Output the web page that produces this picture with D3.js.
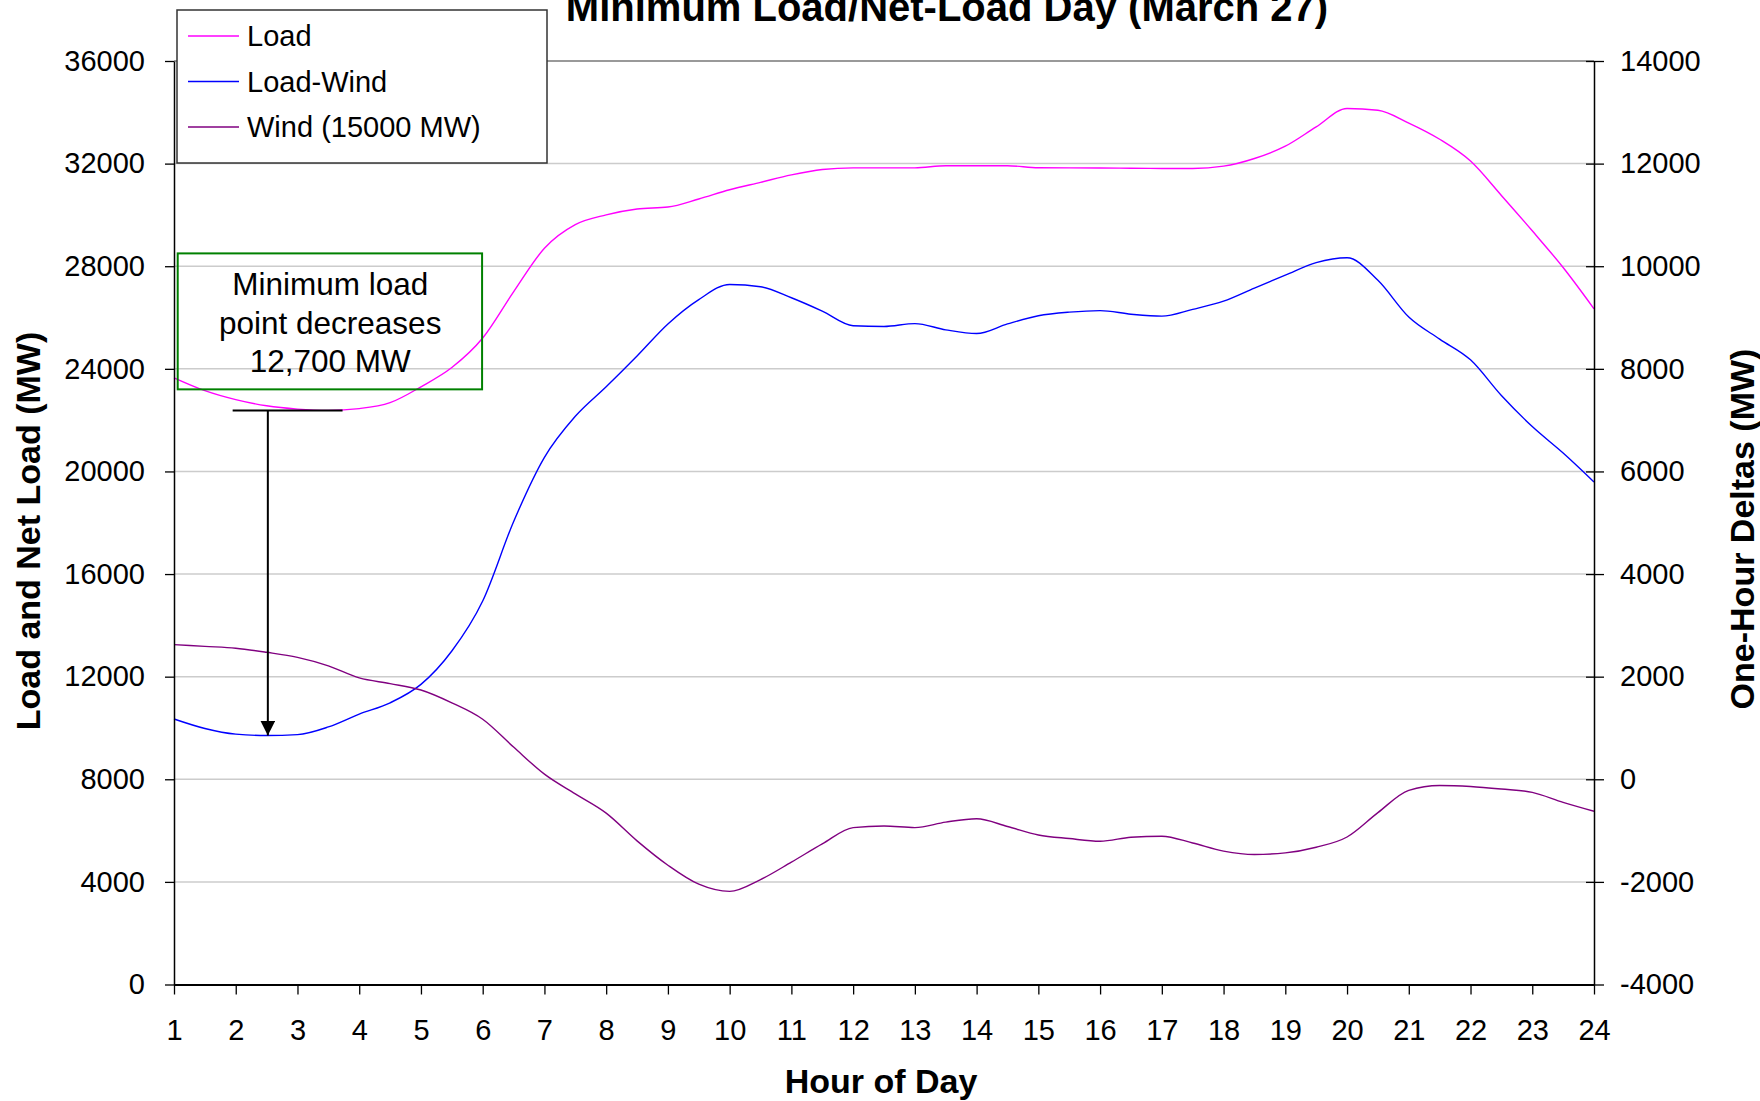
<!DOCTYPE html>
<html>
<head>
<meta charset="utf-8">
<script src="https://cdn.jsdelivr.net/npm/d3@7"></script>
<style>
  body { margin: 0; background: #fff; }
  svg { display: block; font-family: "Liberation Sans", Arial, sans-serif; }
</style>
</head>
<body>
<div id="chart"></div>
<script>
// hour of day, half-hour steps
var hours = [1, 1.5, 2, 2.5, 3, 3.5, 4, 4.5, 5, 5.5, 6, 6.5, 7, 7.5, 8, 8.5, 9, 9.5, 10, 10.5, 11, 11.5, 12, 12.5,
  13, 13.5, 14, 14.5, 15, 15.5, 16, 16.5, 17, 17.5, 18, 18.5, 19, 19.5, 20, 20.5, 21, 21.5, 22, 22.5, 23, 23.5, 24];

var load = [23650, 23150, 22800, 22560, 22430, 22380, 22450, 22680, 23300, 24050, 25200, 27000, 28700, 29620,
  30000, 30230, 30306, 30620, 30980, 31270, 31560, 31770, 31835, 31835, 31835, 31915, 31915, 31915, 31840, 31835,
  31830, 31820, 31812, 31812, 31900, 32200, 32680, 33430, 34150, 34080, 33580, 32950, 32100, 30760, 29380, 27950, 26340];

var loadWind = [10350, 9980, 9760, 9705, 9740, 10040, 10540, 10980, 11700, 13000, 14950, 18040, 20550, 22150,
  23300, 24500, 25750, 26700, 27290, 27200, 26770, 26250, 25680, 25650, 25764, 25520, 25375, 25750, 26068, 26210,
  26271, 26130, 26053, 26320, 26640, 27150, 27650, 28140, 28330, 27450, 26020, 25160, 24350, 22960, 21750, 20719, 19592];

var wind = [13250, 13180, 13110, 12950, 12750, 12420, 11950, 11730, 11480, 10980, 10340, 9256, 8200, 7430,
  6680, 5600, 4650, 3910, 3630, 4090, 4770, 5480, 6117, 6180, 6117, 6330, 6460, 6160, 5829, 5690,
  5587, 5740, 5782, 5515, 5201, 5070, 5130, 5350, 5750, 6700, 7570, 7759, 7720, 7620, 7490, 7100, 6753];

var xTicks = [1, 2, 3, 4, 5, 6, 7, 8, 9, 10, 11, 12, 13, 14, 15, 16, 17, 18, 19, 20, 21, 22, 23, 24];
var leftTicks = [0, 4000, 8000, 12000, 16000, 20000, 24000, 28000, 32000, 36000];
var rightTicks = [-4000, -2000, 0, 2000, 4000, 6000, 8000, 10000, 12000, 14000];

var seriesNames = ["Load", "Load-Wind", "Wind (15000 MW)"];
var seriesColors = ["#ff00ff", "#0000ff", "#800080"];

var W = 1760, H = 1101;
var plotLeft = 174, plotRight = 1594, plotTop = 61, plotBottom = 984.5;

var svg = d3.select("#chart").append("svg")
  .attr("width", W)
  .attr("height", H);

var x = d3.scaleLinear().domain([1, 24]).range([plotLeft, plotRight]);
var y = d3.scaleLinear().domain([0, 36000]).range([plotBottom, plotTop]);
var y2 = d3.scaleLinear().domain([-4000, 14000]).range([plotBottom, plotTop]);

// gridlines
svg.append("g")
  .selectAll("line")
  .data(leftTicks.filter(function(d) { return d > 0 && d < 36000; }))
  .join("line")
    .attr("x1", plotLeft).attr("x2", plotRight)
    .attr("y1", function(d) { return y(d); })
    .attr("y2", function(d) { return y(d); })
    .attr("stroke", "#cccccc")
    .attr("stroke-width", 1.5);

// top border of plot
svg.append("line")
  .attr("x1", plotLeft).attr("x2", plotRight)
  .attr("y1", y(36000)).attr("y2", y(36000))
  .attr("stroke", "#999999")
  .attr("stroke-width", 2);

// lines
var line = d3.line()
  .x(function(d, i) { return x(hours[i]); })
  .y(function(d) { return y(d); })
  .curve(d3.curveMonotoneX);

[load, loadWind, wind].forEach(function(s, k) {
  svg.append("path")
    .datum(s)
    .attr("fill", "none")
    .attr("stroke", seriesColors[k])
    .attr("stroke-width", 1.4)
    .attr("d", line);
});

// axes
var axL = svg.append("g")
  .attr("transform", "translate(" + plotLeft + ",0)")
  .call(d3.axisLeft(y).tickValues(leftTicks).tickSize(9).tickSizeOuter(0).tickPadding(20).tickFormat(d3.format("d")));

var axR = svg.append("g")
  .attr("transform", "translate(" + plotRight + ",0)")
  .call(d3.axisRight(y2).tickValues(rightTicks).tickSize(10).tickSizeOuter(0).tickPadding(16).tickFormat(function(d) { return d < 0 ? "-" + Math.abs(d) : d; }));
axR.selectAll(".tick line").attr("x1", -8);

var axB = svg.append("g")
  .attr("transform", "translate(0," + plotBottom + ")")
  .call(d3.axisBottom(x).tickValues(xTicks).tickSize(10).tickSizeOuter(0).tickPadding(25).tickFormat(d3.format("d")));

[axL, axR, axB].forEach(function(a) {
  a.selectAll("text").attr("font-size", 29).attr("fill", "#000").attr("font-family", "Liberation Sans, Arial, sans-serif");
  a.selectAll("line").attr("stroke", "#000").attr("stroke-width", 1.3);
  a.select(".domain").attr("stroke", "#000").attr("stroke-width", 1.5);
});
axB.select(".domain").attr("stroke-width", 2);

// titles
svg.append("text")
  .attr("x", 947).attr("y", 21)
  .attr("text-anchor", "middle")
  .attr("font-size", 40).attr("font-weight", "bold")
  .text("Minimum Load/Net-Load Day (March 27)");

svg.append("text")
  .attr("x", 881).attr("y", 1093)
  .attr("text-anchor", "middle")
  .attr("font-size", 34).attr("font-weight", "bold")
  .text("Hour of Day");

svg.append("text")
  .attr("transform", "translate(40,531) rotate(-90)")
  .attr("text-anchor", "middle")
  .attr("font-size", 34).attr("font-weight", "bold")
  .text("Load and Net Load (MW)");

svg.append("text")
  .attr("transform", "translate(1754,529) rotate(-90)")
  .attr("text-anchor", "middle")
  .attr("font-size", 34).attr("font-weight", "bold")
  .text("One-Hour Deltas (MW)");

// legend
var leg = svg.append("g");
leg.append("rect")
  .attr("x", 177).attr("y", 10)
  .attr("width", 370).attr("height", 153)
  .attr("fill", "#fff")
  .attr("stroke", "#333")
  .attr("stroke-width", 1.5);

seriesNames.forEach(function(n, i) {
  var ly = 36 + i * 45.5;
  leg.append("line")
    .attr("x1", 188).attr("x2", 239)
    .attr("y1", ly).attr("y2", ly)
    .attr("stroke", seriesColors[i])
    .attr("stroke-width", 1.5);
  leg.append("text")
    .attr("x", 247).attr("y", ly)
    .attr("dy", "0.35em")
    .attr("font-size", 29)
    .text(n);
});

// annotation: minimum load drop
var minHour = 2.52;
var loadMin = d3.min(load);
var netMin = d3.min(loadWind);

svg.append("rect")
  .attr("x", x(1.06)).attr("y", y(28500))
  .attr("width", x(5.99) - x(1.06))
  .attr("height", y(23200) - y(28500))
  .attr("fill", "none")
  .attr("stroke", "#008000")
  .attr("stroke-width", 2);

var note = ["Minimum load", "point decreases", "12,700 MW"];
svg.append("g").selectAll("text")
  .data(note)
  .join("text")
    .attr("x", x(3.53))
    .attr("y", function(d, i) { return 295 + i * 38.5; })
    .attr("text-anchor", "middle")
    .attr("font-size", 31.5)
    .text(function(d) { return d; });

svg.append("defs").append("marker")
  .attr("id", "arrow")
  .attr("viewBox", "0 0 10 10")
  .attr("refX", 10).attr("refY", 5)
  .attr("markerWidth", 7.5).attr("markerHeight", 7.5)
  .attr("markerUnits", "strokeWidth")
  .attr("orient", "auto")
  .append("path")
    .attr("d", "M0,0 L10,5 L0,10 z")
    .attr("fill", "#000");

svg.append("line")
  .attr("x1", x(1.95)).attr("x2", x(3.73))
  .attr("y1", y(loadMin)).attr("y2", y(loadMin))
  .attr("stroke", "#000")
  .attr("stroke-width", 2);

svg.append("line")
  .attr("x1", x(minHour)).attr("x2", x(minHour))
  .attr("y1", y(loadMin)).attr("y2", y(netMin))
  .attr("stroke", "#000")
  .attr("stroke-width", 2)
  .attr("marker-end", "url(#arrow)");
</script>
</body>
</html>
